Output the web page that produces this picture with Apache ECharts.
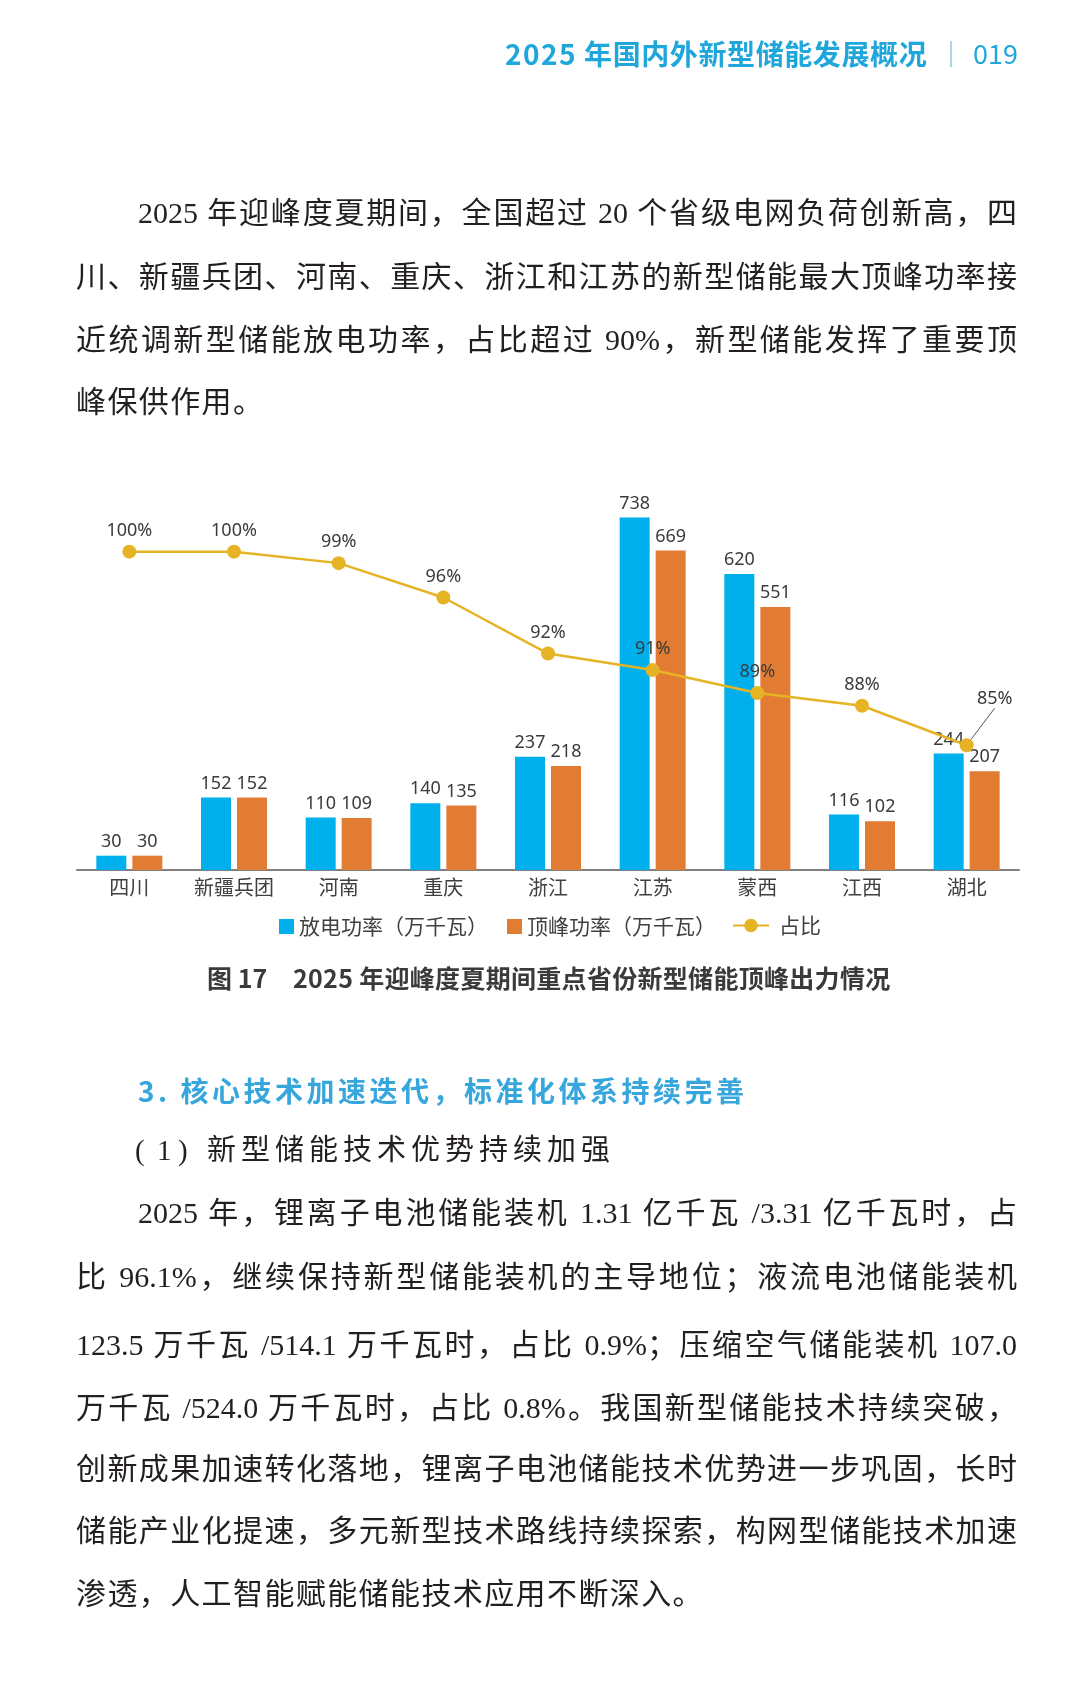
<!DOCTYPE html>
<html>
<head>
<meta charset="utf-8">
<title>2025 年迎峰度夏期间重点省份新型储能顶峰出力情况</title>
<script src="https://cdn.jsdelivr.net/npm/echarts@6/dist/echarts.min.js"></script>
<style>
html, body { margin: 0; padding: 0; background: #fff; }
#page { position: relative; width: 1080px; height: 1707px; overflow: hidden; background: #fff; }
#chart { position: absolute; left: 0; top: 0; width: 1080px; height: 1707px; }
.t { position: absolute; z-index: 2; }
.head { font-family: "Noto Sans CJK SC", sans-serif; font-weight: bold; font-size: 28px; line-height: 36px; color: #1fa7dc; white-space: nowrap; letter-spacing: 0.6px; }
.body { font-family: "Liberation Serif", "Noto Sans CJK SC", serif; font-size: 30px; line-height: 40px; color: #231f20; }
.just { text-align: justify; text-align-last: justify; }
.last { white-space: nowrap; letter-spacing: 1.4px; }
.sec { font-family: "Noto Sans CJK SC", sans-serif; font-weight: bold; font-size: 28px; line-height: 38px; color: #36a6dc; letter-spacing: 3.5px; white-space: nowrap; }
.sub { font-family: "Liberation Serif", "Noto Sans CJK SC", serif; font-size: 29px; line-height: 40px; color: #231f20; white-space: nowrap; }
.cap { font-family: "Noto Sans CJK SC", sans-serif; font-weight: bold; font-size: 25px; line-height: 34px; color: #3a3a3a; white-space: nowrap; }
</style>
</head>
<body>
<div id="page">
  <div id="chart"></div>

  <!-- 页眉 -->
  <div class="t head" style="left:505px; top:35px;"><span style="letter-spacing:1.5px">2025</span> 年国内外新型储能发展概况</div>
  <div class="t" style="left:950px; top:41px; width:1.5px; height:26px; background:#a9d6ea;"></div>
  <div class="t head" style="left:973px; top:35px; font-weight:normal; font-size:27px; letter-spacing:0;">019</div>

  <!-- 正文一 -->
  <div class="t body just" style="left:138px; width:879px; top:193px;">2025 年迎峰度夏期间，全国超过 20 个省级电网负荷创新高，四</div>
  <div class="t body just" style="left:76px; width:941px; top:257px;">川、新疆兵团、河南、重庆、浙江和江苏的新型储能最大顶峰功率接</div>
  <div class="t body just" style="left:76px; width:941px; top:320px;">近统调新型储能放电功率，占比超过 90%，新型储能发挥了重要顶</div>
  <div class="t body last" style="left:76px; top:382px;">峰保供作用。</div>

  <!-- 图题 -->
  <div class="t cap" style="left:207px; top:960px;">图 17</div>
  <div class="t cap" style="left:293px; top:960px; letter-spacing:0.3px;">2025 年迎峰度夏期间重点省份新型储能顶峰出力情况</div>

  <!-- 小节 -->
  <div class="t sec" style="left:138px; top:1071px;">3. 核心技术加速迭代，标准化体系持续完善</div>
  <div class="t sub" style="left:135px; top:1130px;">(</div>
  <div class="t sub" style="left:157px; top:1130px;">1</div>
  <div class="t sub" style="left:178px; top:1130px;">)</div>
  <div class="t sub" style="left:207px; top:1130px; letter-spacing:5px;">新型储能技术优势持续加强</div>

  <!-- 正文二 -->
  <div class="t body just" style="left:138px; width:879px; top:1193px;">2025 年，锂离子电池储能装机 1.31 亿千瓦 /3.31 亿千瓦时，占</div>
  <div class="t body just" style="left:76px; width:941px; top:1257px;">比 96.1%，继续保持新型储能装机的主导地位；液流电池储能装机</div>
  <div class="t body just" style="left:76px; width:941px; top:1325px;">123.5 万千瓦 /514.1 万千瓦时，占比 0.9%；压缩空气储能装机 107.0</div>
  <div class="t body just" style="left:76px; width:941px; top:1388px;">万千瓦 /524.0 万千瓦时，占比 0.8%。我国新型储能技术持续突破，</div>
  <div class="t body just" style="left:76px; width:941px; top:1449px;">创新成果加速转化落地，锂离子电池储能技术优势进一步巩固，长时</div>
  <div class="t body just" style="left:76px; width:941px; top:1511px;">储能产业化提速，多元新型技术路线持续探索，构网型储能技术加速</div>
  <div class="t body last" style="left:76px; top:1574px;">渗透，人工智能赋能储能技术应用不断深入。</div>
</div>

<script>
// 数据
var provinces = ['四川', '新疆兵团', '河南', '重庆', '浙江', '江苏', '蒙西', '江西', '湖北'];
var dischargePower = [30, 152, 110, 140, 237, 738, 620, 116, 244];
var peakPower = [30, 152, 109, 135, 218, 669, 551, 102, 207];
var shareRatio = [100, 100, 99.1, 96.4, 92.0, 90.7, 88.9, 87.9, 84.8];

var fontSans = '"Noto Sans", "Noto Sans CJK SC", sans-serif';
var fontCJK = '"Noto Sans CJK SC", sans-serif';
var textColor = '#3b3b3b';
var blue = '#00b0ec';
var orange = '#e27c33';
var gold = '#e6b325';

var legendText = { fontSize: 21, color: '#404040', fontFamily: fontCJK };

// 湖北的占比标签带引线
var ratioData = shareRatio.map(function (v, i) {
    if (i === shareRatio.length - 1) {
        return { value: v, labelLine: { show: true, lineStyle: { color: '#555', width: 1 } } };
    }
    return v;
});

var chart = echarts.init(document.getElementById('chart'));
chart.setOption({
    backgroundColor: '#fff',
    animation: false,
    grid: { left: 77, right: 61, top: 488, bottom: 837 },
    legend: [
        { data: ['放电功率（万千瓦）'], left: 274, top: 911, icon: 'rect', itemWidth: 15, itemHeight: 15, selectedMode: false, textStyle: legendText },
        { data: ['顶峰功率（万千瓦）'], left: 502, top: 911, icon: 'rect', itemWidth: 15, itemHeight: 15, selectedMode: false, textStyle: legendText },
        { data: ['占比'], left: 727, top: 910, itemWidth: 36, itemHeight: 17, selectedMode: false,
          textStyle: Object.assign({ padding: [0, 0, 0, 5] }, legendText) }
    ],
    xAxis: {
        type: 'category',
        data: provinces,
        axisLine: { lineStyle: { color: '#808080', width: 2 } },
        axisTick: { show: false },
        axisLabel: { color: '#404040', fontSize: 20, fontFamily: fontCJK, margin: 7 }
    },
    yAxis: [
        { type: 'value', min: 0, max: 800, show: false },
        { type: 'value', min: 75, max: 105, show: false }
    ],
    series: [
        {
            name: '放电功率（万千瓦）',
            type: 'bar',
            data: dischargePower,
            barWidth: 30,
            barGap: '20%',
            itemStyle: { color: blue },
            label: { show: true, position: 'top', distance: 5, color: textColor, fontSize: 18, fontFamily: fontSans }
        },
        {
            name: '顶峰功率（万千瓦）',
            type: 'bar',
            data: peakPower,
            barWidth: 30,
            itemStyle: { color: orange },
            label: { show: true, position: 'top', distance: 5, color: textColor, fontSize: 18, fontFamily: fontSans }
        },
        {
            name: '占比',
            type: 'line',
            yAxisIndex: 1,
            data: ratioData,
            z: 5,
            symbol: 'circle',
            symbolSize: 14,
            lineStyle: { color: gold, width: 2.5 },
            itemStyle: { color: gold },
            label: {
                show: true, position: 'top', distance: 5, color: textColor, fontSize: 18, fontFamily: fontSans,
                formatter: function (p) { return Math.round(p.value) + '%'; }
            },
            labelLayout: function (p) {
                return p.dataIndex === 8 ? { dx: 28, dy: -25 } : {};
            }
        }
    ]
});
</script>
</body>
</html>
